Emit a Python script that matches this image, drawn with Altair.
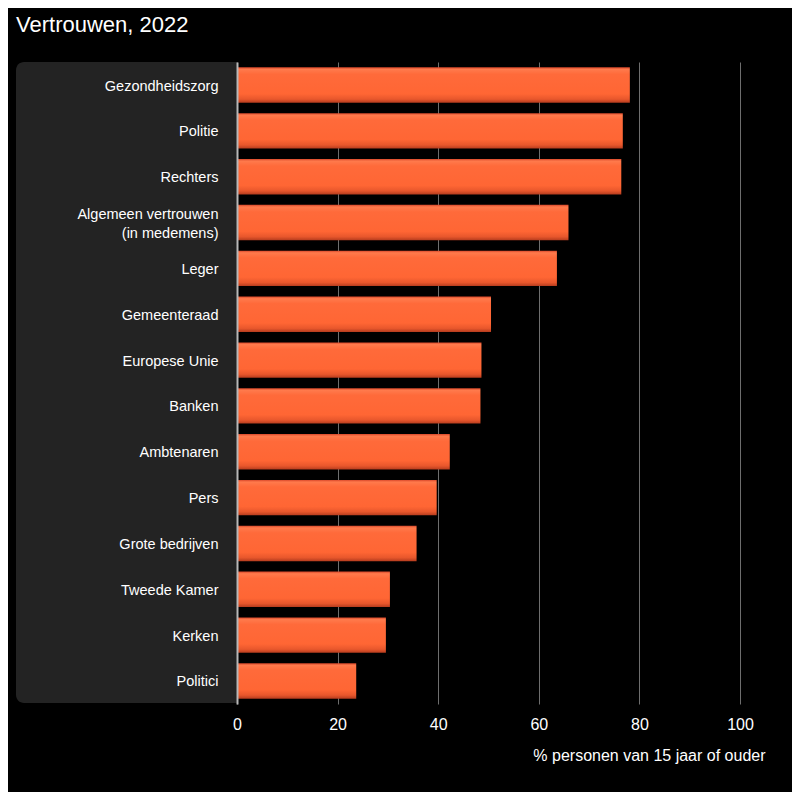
import altair as alt
import pandas as pd

categories = [
    "Gezondheidszorg", "Politie", "Rechters", "Algemeen vertrouwen|(in medemens)",
    "Leger", "Gemeenteraad", "Europese Unie", "Banken", "Ambtenaren", "Pers",
    "Grote bedrijven", "Tweede Kamer", "Kerken", "Politici",
]
values = [78.1, 76.7, 76.4, 65.9, 63.6, 50.5, 48.6, 48.4, 42.3, 39.7, 35.7, 30.4, 29.6, 23.7]
x_ticks = [0, 20, 40, 60, 80, 100]

df = pd.DataFrame({"cat": categories, "val": values})

FONT = "Liberation Sans"
W, H = 503, 642

panel = alt.Chart(alt.Data(values=[{"a": 1}])).mark_rect(
    color="#232323", cornerRadiusTopLeft=8, cornerRadiusBottomLeft=8
).encode(
    x=alt.value(-221), x2=alt.value(0), y=alt.value(0), y2=alt.value(H - 1)
)

grad = alt.Gradient(
    gradient="linear", x1=0, y1=0, x2=0, y2=1,
    stops=[
        alt.GradientStop(offset=0.0, color="#d9482a"),
        alt.GradientStop(offset=0.06, color="#ff7a4c"),
        alt.GradientStop(offset=0.2, color="#ff6a3a"),
        alt.GradientStop(offset=0.75, color="#ff6634"),
        alt.GradientStop(offset=0.9, color="#e8572c"),
        alt.GradientStop(offset=1.0, color="#b63c1e"),
    ],
)

bars = alt.Chart(df).mark_bar(fill=grad).encode(
    y=alt.Y(
        "cat:N", sort=categories,
        scale=alt.Scale(paddingInner=0.228, paddingOuter=0.116),
        axis=alt.Axis(
            title=None, ticks=False, grid=False, domain=True,
            domainColor="#b8b8b8", domainWidth=2,
            labelColor="white", labelFont=FONT, labelFontSize=14.5,
            labelPadding=19, labelLineHeight=19,
            labelExpr="split(datum.label, '|')", zindex=1,
            labelOffset={"condition": {"test": "indexof(datum.value, '|') >= 0", "value": -7.5}, "value": 1.5},
        ),
    ),
    x=alt.X(
        "val:Q", scale=alt.Scale(domain=[0, 100]),
        axis=alt.Axis(
            values=x_ticks, grid=True, gridColor="#6e6e6e", gridWidth=1,
            domain=False, ticks=False, labelColor="white", labelFont=FONT,
            labelFontSize=16, labelPadding=12, labelFlush=False,
            title="% personen van 15 jaar of ouder", titleColor="white",
            titleFont=FONT, titleFontSize=16, titleFontWeight="normal",
            titleAnchor="end", titleAlign="right", titleX=528, titleY=56,
            titleBaseline="alphabetic",
        ),
    ),
)

chart = alt.layer(panel, bars).properties(
    width=W, height=H,
    background="black",
    padding={"left": 229, "top": 54, "right": 52, "bottom": 88},
    autosize=alt.AutoSizeParams(type="none"),
    title=alt.TitleParams(
        "Vertrouwen, 2022", anchor="start", color="white", font=FONT,
        fontSize=22, fontWeight="normal", offset=8,
        baseline="alphabetic",
    ),
).configure_view(stroke=None)

chart.save("out.html", embed_options={"renderer": "svg", "actions": False})
